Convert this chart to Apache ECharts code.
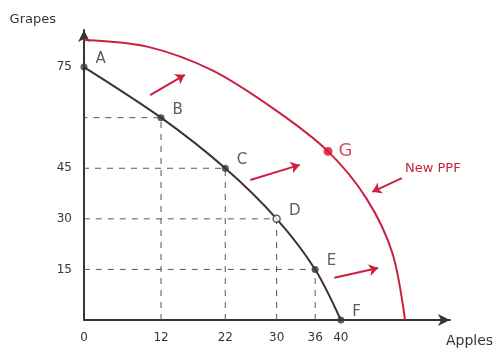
<!DOCTYPE html>
<html>
<head>
<meta charset="utf-8">
<style>
  html, body { margin: 0; padding: 0; background: #ffffff; }
  #chart { width: 503px; height: 354px; }
</style>
<script src="https://cdn.jsdelivr.net/npm/echarts@6/dist/echarts.min.js"></script>
</head>
<body>
<div id="chart"></div>
<script>
// Production possibilities: original frontier A–F and the shifted frontier
const pointNames = ['A', 'B', 'C', 'D', 'E', 'F'];
const apples     = [0, 12, 22, 30, 36, 40];
const grapes     = [75, 60, 45, 30, 15, 0];

// Shifted frontier ("New PPF"), with point G on it
const newApples = [0, 10, 20, 30, 38, 44, 48, 50];
const newGrapes = [83, 81, 74, 62, 50, 36, 20, 0];
const pointG    = [38, 50];

// Tick labels shown on each axis
const xTickLabels = [0, 12, 22, 30, 36, 40];
const yTickLabels = [15, 30, 45, 75];

// Outward-shift arrows, [from, to] in (apples, grapes)
const shiftArrows = [
  [[10.3, 66.7], [15.7, 72.7]],
  [[25.9, 41.5], [33.6, 46]],
  [[39, 12.5], [45.8, 15.4]]
];
const labelArrow = [[49.5, 42.1], [44.9, 38]];

const ink = '#3b3432';
const red = '#c8223f';
const font = '"DejaVu Sans", sans-serif';

const chart = echarts.init(document.getElementById('chart'), null, { renderer: 'canvas' });

const oldCurve = apples.map((x, i) => [x, grapes[i]]);
const newCurve = newApples.map((x, i) => [x, newGrapes[i]]);

// dashed guides from each interior point down to the x-axis and across to the y-axis
const guideSeries = [];
for (let i = 1; i < apples.length - 1; i++) {
  guideSeries.push({
    type: 'line',
    silent: true,
    symbol: 'none',
    z: 1,
    data: [[apples[i], 0], [apples[i], grapes[i]], [0, grapes[i]]],
    lineStyle: { color: '#555', width: 1, type: [6, 6] }
  });
}

const arrowSeries = {
  type: 'lines',
  coordinateSystem: 'cartesian2d',
  silent: true,
  symbol: ['none', 'arrow'],
  symbolSize: 9,
  lineStyle: { color: red, width: 2, opacity: 1 },
  data: shiftArrows.concat([labelArrow]).map(a => ({ coords: a }))
};

chart.setOption({
  animation: false,
  backgroundColor: '#ffffff',
  grid: { left: 84, right: 53, top: 30, bottom: 34, containLabel: false },
  xAxis: {
    type: 'value',
    min: 0, max: 57, interval: 1,
    name: 'Apples',
    nameLocation: 'end',
    nameGap: -4,
    nameTextStyle: { color: ink, fontFamily: font, fontSize: 14, verticalAlign: 'top', padding: [14, 0, 0, 0] },
    axisLine: { symbol: ['none', 'arrow'], symbolSize: [9, 12], lineStyle: { color: ink, width: 2 } },
    axisTick: { show: false },
    splitLine: { show: false },
    axisLabel: {
      color: ink, fontFamily: font, fontSize: 12, margin: 12,
      formatter: v => xTickLabels.includes(v) ? String(v) : ''
    }
  },
  yAxis: {
    type: 'value',
    min: 0, max: 86, interval: 1,
    name: 'Grapes',
    nameLocation: 'end',
    nameGap: 4,
    nameTextStyle: { color: ink, fontFamily: font, fontSize: 13, align: 'right', padding: [0, 28, 0, 0] },
    axisLine: { symbol: ['none', 'arrow'], symbolSize: [9, 12], lineStyle: { color: ink, width: 2 } },
    axisTick: { show: false },
    splitLine: { show: false },
    axisLabel: {
      color: ink, fontFamily: font, fontSize: 12, margin: 12,
      formatter: v => yTickLabels.includes(v) ? String(v) : ''
    }
  },
  graphic: [{
    type: 'text',
    left: 405, top: 162,
    style: { text: 'New PPF', fill: red, font: '13px ' + font }
  }],
  series: guideSeries.concat([
    {
      type: 'line',
      name: 'New PPF',
      data: newCurve,
      smooth: 0.3,
      symbol: 'none',
      z: 3,
      lineStyle: { color: red, width: 2 }
    },
    {
      type: 'line',
      name: 'PPF',
      data: oldCurve,
      smooth: 0.3,
      symbol: 'none',
      z: 3,
      lineStyle: { color: ink, width: 2 }
    },
    {
      type: 'scatter',
      z: 5,
      symbolSize: 7,
      data: oldCurve.map((p, i) => ({
        value: p,
        name: pointNames[i],
        itemStyle: pointNames[i] === 'D'
          ? { color: '#ffffff', borderColor: ink, borderWidth: 1.5 }
          : { color: ink }
      })),
      label: {
        show: true,
        formatter: p => p.name,
        position: 'right',
        distance: 8,
        offset: [0, -8],
        color: ink,
        fontFamily: font,
        fontSize: 15
      }
    },
    {
      type: 'scatter',
      z: 5,
      symbolSize: 9,
      data: [{ value: pointG, name: 'G' }],
      itemStyle: { color: '#d7102a' },
      label: {
        show: true,
        formatter: 'G',
        position: 'right',
        distance: 6,
        color: red,
        fontFamily: font,
        fontSize: 18
      }
    },
    arrowSeries
  ])
});
</script>
</body>
</html>
